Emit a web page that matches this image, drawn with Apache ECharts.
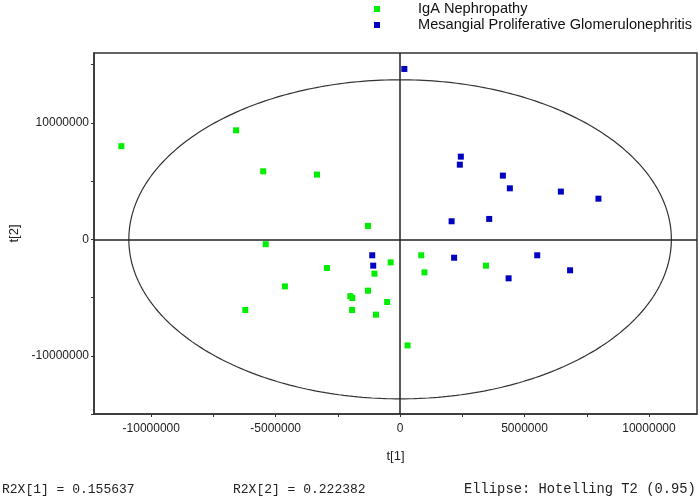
<!DOCTYPE html>
<html>
<head>
<meta charset="utf-8">
<script src="https://cdn.jsdelivr.net/npm/echarts@6/dist/echarts.min.js"></script>
<style>html,body{margin:0;padding:0;background:#fff}#c{width:700px;height:503px}</style>
</head>
<body>
<div id="c"></div>
<script>
const seriesNames = ['IgA Nephropathy', 'Mesangial Proliferative Glomerulonephritis'];
const igaX = [-11200000, -6590000, -5500000, -3340000, -1290000, -5400000, -380000, 850000, 980000, 3450000, -1030000, -2940000, -4630000, -2000000, -1920000, -1290000, -520000, -6220000, -1930000, -970000, 300000];
const igaY = [8000000, 9360000, 5840000, 5560000, 1150000, -420000, -1980000, -1370000, -2840000, -2260000, -2950000, -2460000, -4040000, -4880000, -5040000, -4410000, -5380000, -6070000, -6070000, -6470000, -9110000];
const mpgnX = [170000, 2440000, 2400000, 4130000, 4410000, 6460000, 7970000, 2070000, 3580000, 2170000, 5510000, 6830000, 4360000, -1120000, -1080000];
const mpgnY = [14630000, 7100000, 6410000, 5470000, 4380000, 4100000, 3490000, 1550000, 1750000, -1580000, -1370000, -2660000, -3350000, -1370000, -2260000];
const xTickValues = [-10000000, -7500000, -5000000, -2500000, 0, 2500000, 5000000, 7500000, 10000000];
const xLabelValues = [-10000000, -5000000, 0, 5000000, 10000000];
const yTickValues = [-15000000, -10000000, -5000000, 0, 5000000, 10000000, 15000000];
const yLabelValues = [-10000000, 0, 10000000];
const ellipseSemiX = 10900000;
const ellipseSemiY = 13700000;
const footTexts = ['R2X[1] = 0.155637', 'R2X[2] = 0.222382', 'Ellipse: Hotelling T2 (0.95)'];

const zip = (xs, ys) => xs.map((x, i) => [x, ys[i]]);
const ellipse = [];
for (let i = 0; i <= 360; i++) {
  const t = i * Math.PI / 180;
  ellipse.push([ellipseSemiX * Math.cos(t), ellipseSemiY * Math.sin(t)]);
}

const chart = echarts.init(document.getElementById('c'), null, {renderer: 'canvas'});
const axisCommon = {
  axisLine: {show: true, onZero: false, lineStyle: {color: '#333', width: 1.5}},
  splitLine: {show: false},
  nameTextStyle: {color: '#222', fontSize: 13, fontFamily: 'Liberation Sans'}
};
const plain = v => String(v);
chart.setOption({
  animation: false,
  backgroundColor: '#fff',
  grid: {left: 94, right: 3, top: 53, bottom: 89, show: true, borderColor: '#333', borderWidth: 1.5, containLabel: false, outerBoundsMode: 'none'},
  legend: {
    orient: 'vertical', left: 369, top: -4, itemWidth: 6, itemHeight: 6, itemGap: 0,
    icon: 'rect',
    data: seriesNames,
    textStyle: {color: '#111', fontSize: 14.6, lineHeight: 16, fontFamily: 'Liberation Sans', padding: [0, 0, 0, 33]}
  },
  xAxis: Object.assign({}, axisCommon, {
    type: 'value', min: -12300000, max: 11930000,
    name: 't[1]', nameLocation: 'middle', nameGap: 36,
    axisTick: {show: true, length: 3, customValues: xTickValues, lineStyle: {color: '#333'}},
    axisLabel: {customValues: xLabelValues, formatter: plain, color: '#222', fontSize: 12, fontFamily: 'Liberation Sans', margin: 9}
  }),
  yAxis: Object.assign({}, axisCommon, {
    type: 'value', min: -15000000, max: 16000000,
    name: 't[2]', nameLocation: 'middle', nameGap: 60, nameRotate: 90,
    axisTick: {show: true, length: 3, customValues: yTickValues, lineStyle: {color: '#333'}},
    axisLabel: {customValues: yLabelValues, formatter: plain, color: '#222', fontSize: 12, fontFamily: 'Liberation Sans', margin: 5}
  }),
  series: [
    {
      type: 'line', data: ellipse, showSymbol: false, silent: true,
      lineStyle: {color: '#333', width: 1.2},
      markLine: {
        silent: true, symbol: 'none', label: {show: false},
        lineStyle: {color: '#222', width: 1.5, type: 'solid'},
        data: [{xAxis: 0}, {yAxis: 0}]
      }
    },
    {name: seriesNames[0], type: 'scatter', data: zip(igaX, igaY), symbol: 'rect', symbolSize: 6, itemStyle: {color: '#00ee00', opacity: 1}},
    {name: seriesNames[1], type: 'scatter', data: zip(mpgnX, mpgnY), symbol: 'rect', symbolSize: 6, itemStyle: {color: '#0000c0', opacity: 1}}
  ],
  graphic: [
    {type: 'text', left: 2, top: 483, style: {text: footTexts[0], font: '13px "Liberation Mono"', fill: '#222'}},
    {type: 'text', left: 233, top: 483, style: {text: footTexts[1], font: '13px "Liberation Mono"', fill: '#222'}},
    {type: 'text', left: 464, top: 482, style: {text: footTexts[2], font: '13.8px "Liberation Mono"', fill: '#222'}}
  ]
});
</script>
</body>
</html>
